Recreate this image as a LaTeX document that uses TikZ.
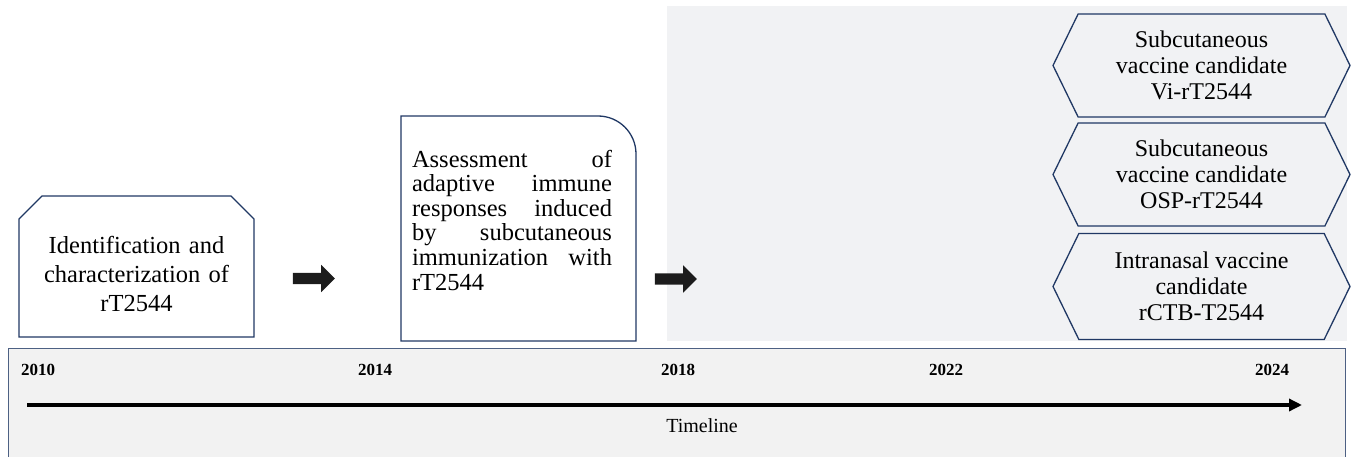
\documentclass[tikz,border=0pt]{standalone}
\usepackage{fontspec}
\setmainfont{Liberation Serif}
\usepackage{tikz}
\usetikzlibrary{arrows.meta}
\usetikzlibrary{shapes.arrows,shapes.symbols}
\definecolor{boxnavy}{HTML}{203864}
\definecolor{panelgray}{HTML}{F1F2F4}
\definecolor{stripgray}{HTML}{F2F2F2}
\definecolor{arrowblack}{HTML}{1C1C1C}
\tolerance=10000
\hyphenpenalty=10000

\begin{document}
\begin{tikzpicture}[x=1pt,y=1pt,
    boxtext/.style={font=\fontsize{24.5}{29}\selectfont,inner sep=0pt},
    boxline/.style={draw=boxnavy,line width=1.3pt},
    hexbox/.style={shape=signal,signal to=west and east,signal pointer angle=128,
      draw=boxnavy,line width=1.3pt,fill=panelgray,minimum width=297pt,
      align=center,font=\fontsize{24}{26}\selectfont,inner sep=0pt},
    blockarrow/.style={single arrow,fill=arrowblack,inner sep=5.5pt,
      single arrow head extend=8pt,minimum height=42pt},
    year/.style={font=\fontsize{17}{17}\bfseries\selectfont}]
      \useasboundingbox (0,0) rectangle (1351,456);
      % grey panel behind the candidates
      \fill[panelgray] (667,115) rectangle (1347,450);
      %% the timeline strip
      \draw[draw=boxnavy!80,fill=stripgray,line width=1pt] (8,-4) rectangle (1345,108);

      % first step, top corners cut
      \draw[boxline] (19,119) -- (19,237) -- (42,260) -- (231,260) -- (254,237) -- (254,119) -- cycle;
      \node[boxtext,text width=220pt,align=center] (ident) at (136.5,182)
        {Identification and\\ characterization of\\ rT2544};

      % second step, one round corner
      \draw[boxline] (401,115) -- (401,340) -- (598,340) arc (90:0:38) -- (636,115) -- cycle;
      \node[boxtext,font=\fontsize{24.5}{24.6}\selectfont,text width=200pt,align=justify] (assess) at (512,236)
        {Assessment of\linebreak adaptive immune\linebreak responses induced\linebreak by subcutaneous\linebreak immunization with\linebreak rT2544};

      \node[blockarrow] (arr1) at (311,177.5) {};
      \node[blockarrow] (arr2) at (673,177) {};

      % vaccine candidates
      \node[hexbox,minimum height=103pt] (vi) at (1201.5,390.5) {Subcutaneous\\ vaccine candidate\\ Vi-rT2544};
      \node[hexbox,minimum height=103pt] (osp) at (1201.5,281.5) {Subcutaneous\\ vaccine candidate\\ OSP-rT2544};
      \node[hexbox,minimum height=106pt] (rctb) at (1201.5,169.5) {Intranasal vaccine\\ candidate\\ rCTB-T2544};

      %% years and arrow
      \foreach \yr/\xx in {2010/38,2014/375,2018/678,2022/946,2024/1272}
        \node[year] (y\yr) at (\xx,86) {\yr};
      \coordinate (tstart) at (27,51);
      \coordinate (tend) at (1302,51);
      \draw[line width=3.5pt,-{Triangle[length=13pt,width=12pt]}] (tstart) -- (tend);
      \node[font=\fontsize{20}{20}\selectfont] (tlabel) at (702,30) {Timeline};
    \end{tikzpicture}
\end{document}
